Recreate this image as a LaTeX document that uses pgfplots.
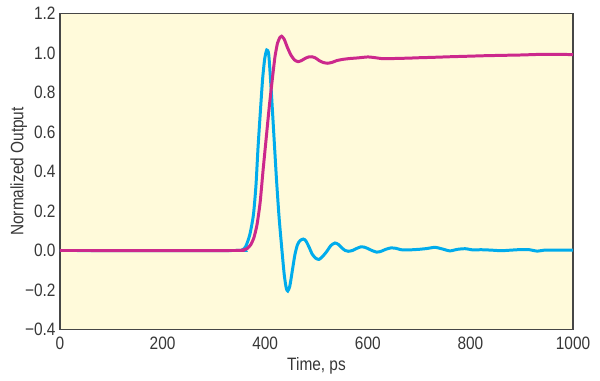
\documentclass[border=0pt]{standalone}
\usepackage{fontspec}
\setmainfont[FakeStretch=0.86]{Liberation Sans}
\usepackage{pgfplots}
\pgfplotsset{compat=1.18}
\definecolor{bgyel}{RGB}{255,250,218}
\definecolor{cblue}{RGB}{0,172,236}
\definecolor{cmag}{RGB}{204,40,140}
\definecolor{axgray}{RGB}{70,70,70}
\definecolor{txtgray}{RGB}{55,55,55}
\begin{document}
\begin{tikzpicture}
\begin{axis}[
  name=ax,
  scale only axis,
  width=513bp, height=316bp,
  xmin=0, xmax=1000, ymin=-0.4, ymax=1.2,
  axis background/.style={fill=bgyel},
  axis line style={draw=axgray, line width=1.2pt},
  major tick length=0pt,
  xtick={0,200,400,600,800,1000},
  xticklabels={0,200,400,600,800,1000},
  ytick={-0.4,-0.2,0,0.2,0.4,0.6,0.8,1.0,1.2},
  yticklabels={−0.4,−0.2,0.0,0.2,0.4,0.6,0.8,1.0,1.2},
  /pgf/number format/assume math mode=true,
  /pgf/number format/1000 sep={},
  tick label style={font=\fontsize{18}{20}\selectfont, text=txtgray},
  label style={font=\fontsize{18}{20}\selectfont, text=txtgray},
  xticklabel style={yshift=-4bp},
  yticklabel style={xshift=-1bp},
  xlabel={Time, ps},
  ylabel={Normalized Output},
  xlabel style={yshift=-1bp},
  ylabel style={yshift=-9bp},
  clip=true,
]
\addplot[cblue, line width=3pt, smooth, tension=0.4] coordinates {
(0,0) (340,0) (355,0.003) (362,0.02) (370,0.08) (377,0.18) (382,0.33) (386,0.52)
(391,0.72) (395,0.87) (399,0.97) (403,1.015) (407,0.99) (412,0.80) (417,0.58)
(422,0.36) (427,0.17) (432,0.02) (437,-0.12) (441,-0.19) (444,-0.205) (448,-0.18)
(453,-0.10) (458,-0.02) (463,0.03) (468,0.05) (474,0.058) (479,0.05) (485,0.02)
(492,-0.02) (499,-0.04) (505,-0.045) (512,-0.03) (520,-0.005) (528,0.025)
(536,0.038) (543,0.03) (550,0.012) (556,0.0) (562,-0.004) (570,0.0) (578,0.01)
(586,0.018) (593,0.017) (600,0.01) (608,0.0) (617,-0.008) (625,-0.005)
(635,0.006) (645,0.013) (655,0.011) (665,0.004) (680,0.003) (700,0.006)
(715,0.01) (731,0.016) (745,0.008) (760,-0.002) (775,0.006) (790,0.009)
(805,0.003) (820,0.004) (840,0.002) (860,-0.001) (880,0.002) (900,0.005)
(915,0.004) (930,-0.003) (945,0.002) (960,0.002) (980,0.002) (1000,0.002)
};
\addplot[cmag, line width=3pt, smooth, tension=0.35] coordinates {
(0,0) (340,0) (355,0.002) (365,0.01) (372,0.03) (378,0.065) (384,0.13) (390,0.24)
(396,0.41) (402,0.57) (408,0.73) (414,0.87) (419,0.98) (424,1.05) (429,1.08) (432,1.085)
(437,1.07) (443,1.03) (450,0.99) (457,0.965) (464,0.956) (471,0.962) (478,0.973)
(485,0.98) (491,0.981) (498,0.975) (505,0.962) (513,0.952) (522,0.948)
(531,0.953) (540,0.962) (552,0.968) (565,0.972) (580,0.975) (600,0.98)
(615,0.976) (630,0.971) (650,0.972) (680,0.974) (700,0.976) (727,0.978)
(760,0.981) (800,0.984) (825,0.986) (860,0.988) (900,0.99) (936,0.993)
(970,0.993) (1000,0.992)
};
\end{axis}
\path (ax.south west) ++(-60bp,-51.5bp) coordinate (bbA);
\path (ax.north east) ++(27bp,13.5bp) coordinate (bbB);
\path[use as bounding box] (bbA) rectangle (bbB);
\end{tikzpicture}
\end{document}
